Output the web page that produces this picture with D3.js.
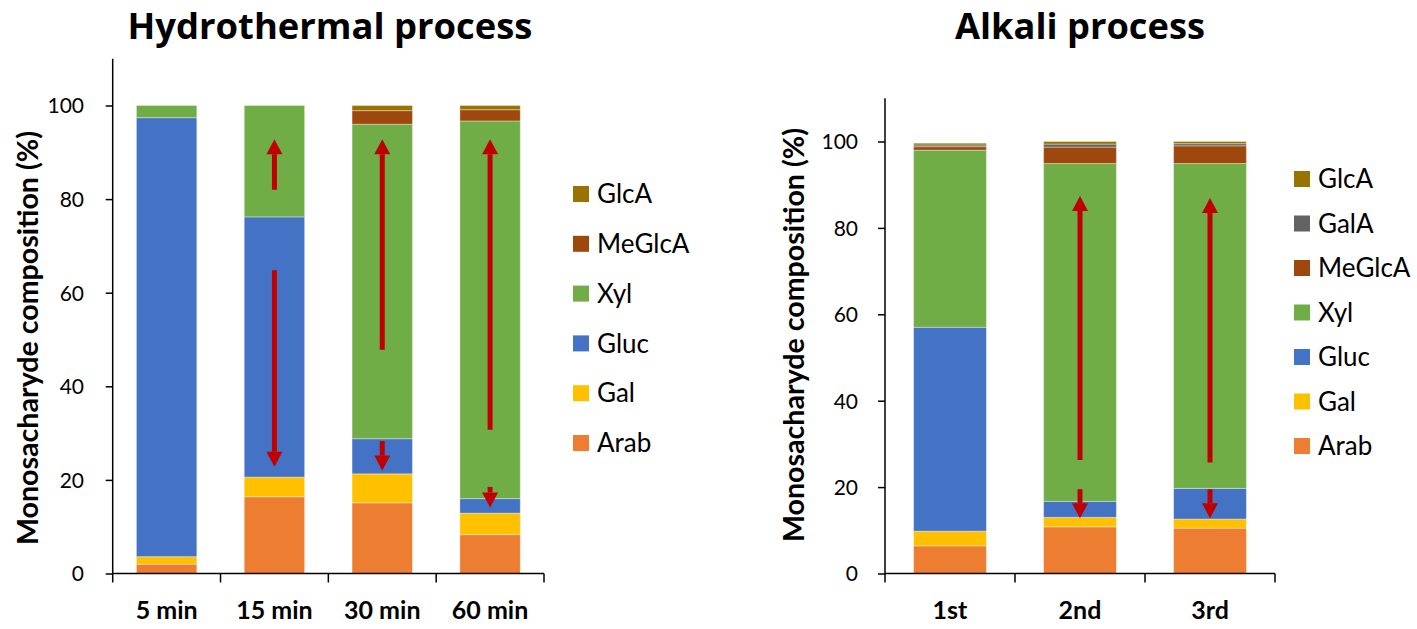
<!DOCTYPE html>
<html>
<head>
<meta charset="utf-8">
<script src="https://cdn.jsdelivr.net/npm/d3@7"></script>
<style>
  html, body { margin: 0; padding: 0; background: #fff; }
  svg { display: block; font-family: Lato, "Open Sans", sans-serif; }
  text { fill: #000; }
</style>
</head>
<body>
<svg id="chart" width="1417" height="629"></svg>
<script>
// ---- Hydrothermal process: monosaccharide composition (%) ----
const hydroCats = ["5 min", "15 min", "30 min", "60 min"];
const hydroArab   = [2.0, 16.4, 15.1, 8.3];
const hydroGal    = [1.6, 4.2, 6.2, 4.6];
const hydroGluc   = [93.8, 55.6, 7.5, 3.1];
const hydroXyl    = [2.6, 23.8, 67.2, 80.7];
const hydroMeGlcA = [0, 0, 2.9, 2.4];
const hydroGlcA   = [0, 0, 1.1, 0.9];

// ---- Alkali process ----
const alkaliCats = ["1st", "2nd", "3rd"];
const alkaliArab   = [6.4, 10.8, 10.5];
const alkaliGal    = [3.4, 2.2, 2.1];
const alkaliGluc   = [47.2, 3.7, 7.1];
const alkaliXyl    = [41.0, 78.2, 75.2];
const alkaliMeGlcA = [0.8, 3.8, 4.1];
const alkaliGalA   = [0.4, 0.7, 0.5];
const alkaliGlcA   = [0.4, 0.6, 0.5];

// Trend arrows (tail value -> head value, in %)
const hydroArrowCats = ["15 min", "15 min", "30 min", "30 min", "60 min", "60 min"];
const hydroArrowFrom = [82.0, 64.8, 47.8, 28.3, 30.7, 18.5];
const hydroArrowTo   = [92.8, 22.8, 92.8, 22.0, 92.8, 14.1];
const alkaliArrowCats = ["2nd", "2nd", "3rd", "3rd"];
const alkaliArrowFrom = [26.3, 19.5, 25.7, 19.5];
const alkaliArrowTo   = [87.4, 12.8, 86.9, 12.8];

const yTicks = [0, 20, 40, 60, 80, 100];
const yTitle = "Monosacharyde composition (%)";

const colors = {
  Arab: "#ED7D31", Gal: "#FFC000", Gluc: "#4472C4", Xyl: "#70AD47",
  MeGlcA: "#9E480E", GalA: "#636363", GlcA: "#997300"
};

const svg = d3.select("#chart");

function fitText(sel, width) {
  const node = sel.node();
  const fs = parseFloat(sel.attr("font-size"));
  const w = node.getComputedTextLength();
  sel.attr("font-size", (fs * width / w).toFixed(2));
}

function drawPanel(cfg) {
  const keys = cfg.keys;
  const rows = cfg.cats.map((c, i) => {
    const r = { cat: c };
    keys.forEach(k => r[k] = cfg.series[k][i]);
    return r;
  });
  const stacked = d3.stack().keys(keys)(rows);

  const x = d3.scaleBand().domain(cfg.cats).range(cfg.xRange)
    .paddingInner(0.44).paddingOuter(0.22);
  const y = d3.scaleLinear().domain([0, 110]).range(cfg.yRange);

  const g = svg.append("g");

  // stacked bars
  g.selectAll("g.layer").data(stacked).join("g")
    .attr("class", "layer")
    .attr("fill", d => colors[d.key])
    .selectAll("rect").data(d => d).join("rect")
    .attr("x", d => x(d.data.cat))
    .attr("width", x.bandwidth())
    .attr("y", d => y(d[1]))
    .attr("height", d => Math.max(0, y(d[0]) - y(d[1])))
    .attr("stroke", "rgba(255,255,255,0.35)")
    .attr("stroke-width", 1);

  // y axis
  const yAxis = d3.axisLeft(y).tickValues(yTicks).tickSize(7).tickPadding(0)
    .tickFormat(d3.format("d"));
  const ya = g.append("g").attr("transform", `translate(${cfg.xRange[0]},0)`).call(yAxis);
  ya.attr("font-family", null);
  ya.select(".domain").attr("d", `M0,${y(110)}V${y(0)}`).attr("stroke", "#000").attr("stroke-width", 1.5);
  ya.selectAll(".tick line").attr("stroke", "#000").attr("stroke-width", 1.5);
  ya.selectAll(".tick text")
    .attr("x", cfg.tickLabelX - cfg.xRange[0])
    .attr("dy", "0.35em")
    .attr("font-size", 21)
    .attr("fill", "#000");

  // x axis with boundary ticks between categories
  const xa = g.append("g").attr("transform", `translate(0,${y(0)})`);
  xa.append("path").attr("d", `M${cfg.xRange[0]},0H${cfg.xRange[1]}`)
    .attr("stroke", "#000").attr("stroke-width", 1.5).attr("fill", "none");
  const step = x.step();
  const bounds = d3.range(cfg.cats.length + 1).map(i => cfg.xRange[0] + i * step);
  xa.selectAll("line.bt").data(bounds).join("line").attr("class", "bt")
    .attr("x1", d => d).attr("x2", d => d).attr("y1", 0).attr("y2", 9)
    .attr("stroke", "#000").attr("stroke-width", 1.5);
  xa.selectAll("text.xl").data(cfg.cats).join("text").attr("class", "xl")
    .attr("x", d => x(d) + x.bandwidth() / 2)
    .attr("y", 45)
    .attr("text-anchor", "middle")
    .attr("font-size", 25)
    .attr("font-weight", "bold")
    .text(d => d);

  // arrows
  const headLen = 15, headHalf = 8;
  cfg.arrowCats.forEach((c, i) => {
    const cx = x(c) + x.bandwidth() / 2;
    const y0 = y(cfg.arrowFrom[i]);
    const y1 = y(cfg.arrowTo[i]);
    const dir = y1 < y0 ? -1 : 1;
    const base = y1 - dir * headLen;
    g.append("line")
      .attr("x1", cx).attr("x2", cx).attr("y1", y0).attr("y2", base)
      .attr("stroke", "#C00000").attr("stroke-width", 5);
    g.append("path")
      .attr("d", `M${cx},${y1}L${cx - headHalf},${base}L${cx + headHalf},${base}Z`)
      .attr("fill", "#C00000");
  });

  // title
  const t = g.append("text")
    .attr("x", cfg.titleX).attr("y", 39)
    .attr("text-anchor", "middle")
    .style("font-family", "'Open Sans', sans-serif")
    .attr("font-size", 32).attr("font-weight", "bold")
    .text(cfg.title);
  fitText(t, cfg.titleWidth);

  // y axis title
  const yt = g.append("text")
    .attr("transform", `translate(${cfg.yTitleX},${cfg.yTitleY}) rotate(-90)`)
    .attr("text-anchor", "middle")
    .attr("dominant-baseline", "central")
    .attr("font-size", 24).attr("font-weight", "bold")
    .text(yTitle);
  fitText(yt, 414);

  // legend (top to bottom = stack top to bottom)
  const legKeys = keys.slice().reverse();
  const lg = g.append("g");
  legKeys.forEach((k, i) => {
    const cy = cfg.legendY + i * cfg.legendStep;
    lg.append("rect").attr("x", cfg.legendX).attr("y", cy - 8)
      .attr("width", 16).attr("height", 16).attr("fill", colors[k]);
    lg.append("text").attr("x", cfg.legendX + 24).attr("y", cy)
      .attr("dy", "0.35em").attr("font-size", 26).text(k);
  });
}

drawPanel({
  title: "Hydrothermal process", titleX: 330, titleWidth: 405,
  cats: hydroCats,
  keys: ["Arab", "Gal", "Gluc", "Xyl", "MeGlcA", "GlcA"],
  series: { Arab: hydroArab, Gal: hydroGal, Gluc: hydroGluc, Xyl: hydroXyl, MeGlcA: hydroMeGlcA, GlcA: hydroGlcA },
  xRange: [112.7, 544], yRange: [573.5, 58.7], tickLabelX: 84,
  arrowCats: hydroArrowCats, arrowFrom: hydroArrowFrom, arrowTo: hydroArrowTo,
  yTitleX: 27, yTitleY: 338,
  legendX: 573, legendY: 194, legendStep: 49.8
});

drawPanel({
  title: "Alkali process", titleX: 1080, titleWidth: 250,
  cats: alkaliCats,
  keys: ["Arab", "Gal", "Gluc", "Xyl", "MeGlcA", "GalA", "GlcA"],
  series: { Arab: alkaliArab, Gal: alkaliGal, Gluc: alkaliGluc, Xyl: alkaliXyl, MeGlcA: alkaliMeGlcA, GalA: alkaliGalA, GlcA: alkaliGlcA },
  xRange: [885, 1275], yRange: [573.5, 98.3], tickLabelX: 858,
  arrowCats: alkaliArrowCats, arrowFrom: alkaliArrowFrom, arrowTo: alkaliArrowTo,
  yTitleX: 793, yTitleY: 335,
  legendX: 1294, legendY: 179, legendStep: 44.5
});
</script>
</body>
</html>
